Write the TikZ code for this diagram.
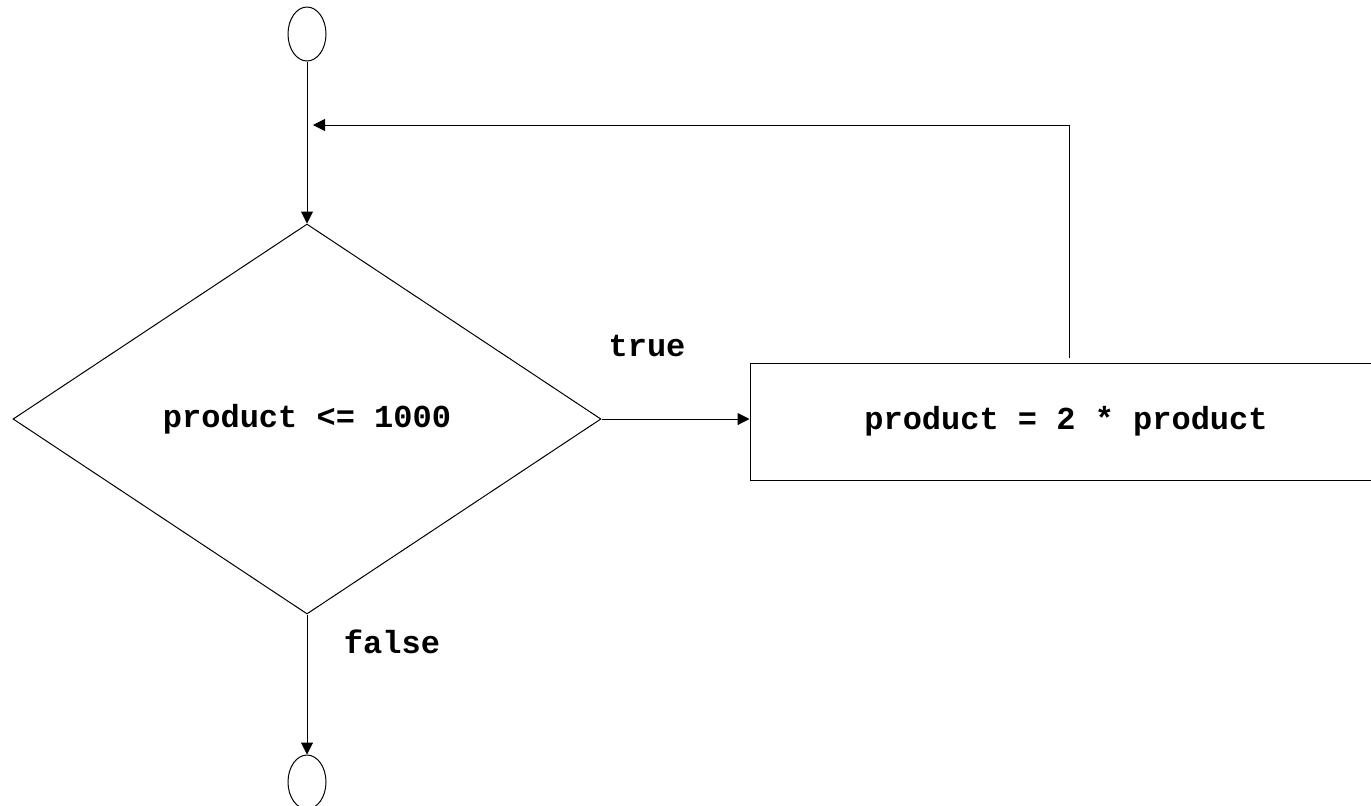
\documentclass[tikz,border=0pt]{standalone}
\usepackage{fontspec}
\setmonofont{Liberation Mono}
\usetikzlibrary{shapes.geometric,arrows.meta}
\begin{document}
\begin{tikzpicture}[x=0.5pt,y=-0.5pt,line width=0.5pt,
  flow/.style={-{Triangle[length=6pt,width=6pt]}},
  lbl/.style={font=\ttfamily\bfseries\fontsize{16}{19}\selectfont},
  terminal/.style={ellipse,draw,minimum width=19pt,minimum height=27pt,inner sep=0pt}]
\useasboundingbox (0,0) rectangle (1371,805);
% nodes
\node[terminal] (start) at (307,34) {};
\node[diamond,draw,minimum width=294pt,minimum height=195pt,inner sep=0pt,lbl] (test) at (307,419) {product <= 1000};
\node[draw,minimum width=316pt,minimum height=58.5pt,inner sep=0pt,lbl] (body) at (1066,421.5) {product = 2 * product};
\node[terminal] (stop) at (307,782) {};
\node[lbl] (t) at (647,346) {true};
\node[lbl] (f) at (392,642) {false};
% loop-back route
\coordinate (merge) at (313,125);
\coordinate (corner) at (1069,125);
% connectors
\draw[flow] (start.south) -- (test.north);
\draw[flow] (test.east) -- (test.east -| body.west);
\draw[flow] ([yshift=2.5pt]body.north -| corner) -- (corner) -- (merge);
\draw[flow] (test.south) -- (stop.north);
\end{tikzpicture}
\end{document}
